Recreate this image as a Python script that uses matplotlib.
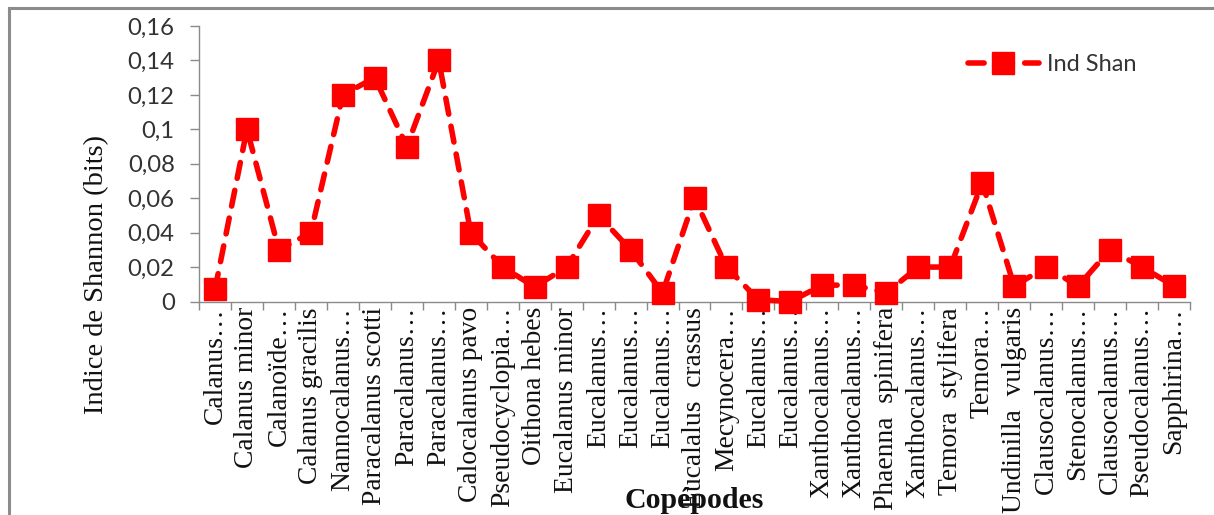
import matplotlib
matplotlib.use("Agg")
import matplotlib.pyplot as plt
from matplotlib.lines import Line2D
import numpy as np

# Copepod taxa (labels as truncated on the axis)
categories = [
    "Calanus…", "Calanus minor", "Calanoïde…", "Calanus gracilis",
    "Nannocalanus…", "Paracalanus scotti", "Paracalanus…", "Paracalanus…",
    "Calocalanus pavo", "Pseudocyclopia…", "Oithona hebes", "Eucalanus minor",
    "Eucalanus…", "Eucalanus…", "Eucalanus…", "Eucalalus  crassus",
    "Mecynocera…", "Eucalanus…", "Eucalanus…", "Xanthocalanus…",
    "Xanthocalanus…", "Phaenna  spinifera", "Xanthocalanus…", "Temora  stylifera",
    "Temora…", "Undinilla  vulgaris", "Clausocalanus…", "Stenocalanus…",
    "Clausocalanus…", "Pseudocalanus…", "Sapphirina…",
]

# Shannon index per taxon (bits)
ind_shan = [
    0.007, 0.100, 0.030, 0.040, 0.120, 0.130, 0.090, 0.140,
    0.040, 0.020, 0.0085, 0.020, 0.050, 0.030, 0.005, 0.060,
    0.020, 0.001, 0.000, 0.0095, 0.0095, 0.005, 0.020, 0.020,
    0.069, 0.009, 0.020, 0.009, 0.030, 0.020, 0.009,
]

y_ticks = [0, 0.02, 0.04, 0.06, 0.08, 0.1, 0.12, 0.14, 0.16]
y_tick_labels = ["0", "0,02", "0,04", "0,06", "0,08", "0,1", "0,12", "0,14", "0,16"]

W, H = 1214, 515
fig = plt.figure(figsize=(W / 100, H / 100), dpi=100)
ax = fig.add_axes([199 / W, 1 - 301.5 / H, (1190 - 199) / W, (301.5 - 26) / H])

x = np.arange(len(categories))
ax.plot(x, ind_shan, color="#ff0000", lw=4.0, linestyle=(0, (2.9, 2.2)),
        dash_capstyle="round", marker="s", markersize=16.5,
        markerfacecolor="#ff0000", markeredgecolor="#ff0000",
        label="Ind Shan", zorder=3, clip_on=False)

ax.set_xlim(-0.5, len(categories) - 0.5)
ax.set_ylim(0, 0.16)

# axes styling
for side in ("top", "right"):
    ax.spines[side].set_visible(False)
for side in ("left", "bottom"):
    ax.spines[side].set_color("#8a8a8a")
    ax.spines[side].set_linewidth(1.0)

ax.set_yticks(y_ticks)
ax.set_yticklabels(y_tick_labels, family="Lato", fontsize=17.2, color="#333333")
ax.tick_params(axis="y", direction="out", length=6.5, width=1.0,
               color="#8a8a8a", pad=11)

# category labels at centres, tick marks at boundaries
ax.set_xticks(x)
ax.set_xticklabels(categories, rotation=90, family="Liberation Serif",
                   fontsize=19.8, color="#111111", va="top", ha="center")
ax.tick_params(axis="x", which="major", length=0, pad=4)
ax.set_xticks(np.arange(len(categories) + 1) - 0.5, minor=True)
ax.tick_params(axis="x", which="minor", direction="out", length=5.5,
               width=1.0, color="#8a8a8a")

fig.text(97 / W, 1 - 275 / H, "Indice de Shannon (bits)", rotation=90,
         family="Liberation Serif", fontsize=20.5, color="#111111",
         ha="center", va="center")

fig.text(694.5 / W, 1 - 500 / H, "Copépodes", family="Liberation Serif",
         fontweight="bold", fontsize=21.5, color="#111111",
         ha="center", va="center")

leg = ax.legend(loc="center left", bbox_to_anchor=(968 / W, 1 - 65 / H),
                bbox_transform=fig.transFigure, frameon=False,
                prop={"family": "Lato", "size": 17}, handlelength=3.0,
                handletextpad=0.35, borderpad=0, borderaxespad=0)
for t in leg.get_texts():
    t.set_color("#333333")

# outer frame (left and top edges visible)
frame_col = "#8c8c8c"
fig.add_artist(Line2D([9 / W, 9 / W], [0, 1 - 8 / H], color=frame_col,
                      lw=2.2, transform=fig.transFigure))
fig.add_artist(Line2D([9 / W, 1], [1 - 8 / H, 1 - 8 / H], color=frame_col,
                      lw=2.2, transform=fig.transFigure))

fig.savefig("out.png", dpi=100, facecolor="white")
